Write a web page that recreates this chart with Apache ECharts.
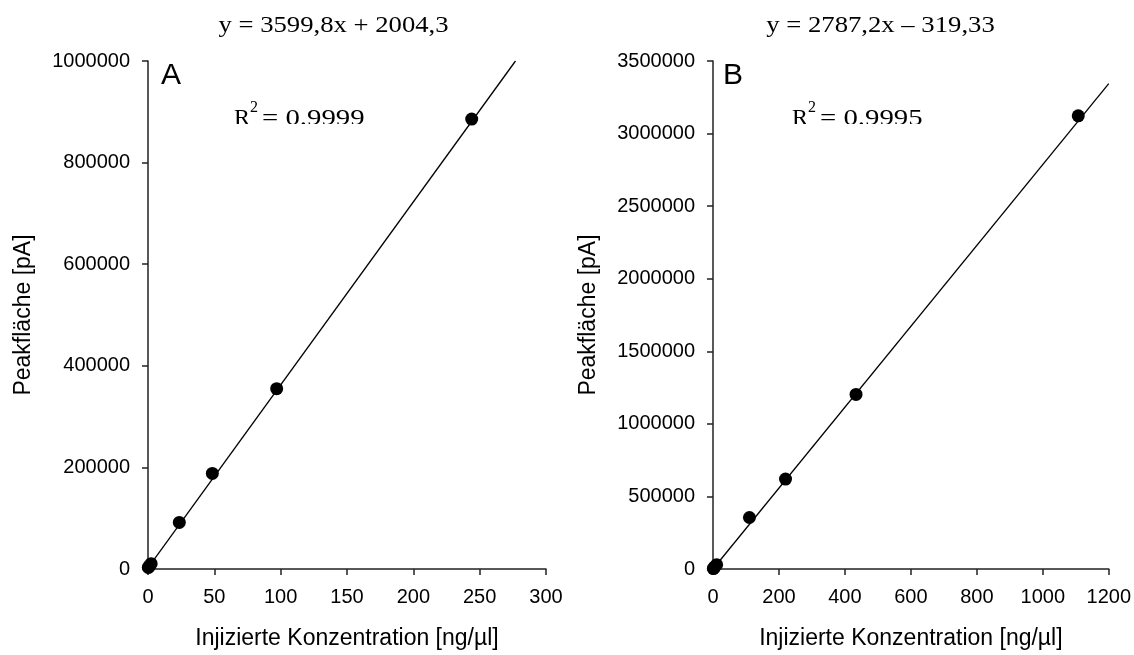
<!DOCTYPE html>
<html>
<head>
<meta charset="utf-8">
<script src="https://cdn.jsdelivr.net/npm/echarts@6/dist/echarts.min.js"></script>
<style>html,body{margin:0;padding:0;background:#fff}#c{width:1134px;height:655px}</style>
</head>
<body>
<div id="c"></div>
<script>
// Panel A data (x: ng/µl, y: peak area pA)
const pointsA_x = [0.25, 0.5, 1.2, 2.4, 23.6, 48.5, 97.0, 244.0];
const pointsA_y = [2900, 3800, 6300, 10500, 91600, 188200, 355000, 885700];
const trendA = [[0, 2000], [277, 1000000]];
// Panel B data
const pointsB_x = [1.1, 2.2, 5.5, 11, 110.5, 219.9, 433.7, 1107.5];
const pointsB_y = [3000, 6000, 15000, 30000, 354800, 619700, 1203000, 3122500];
const trendB = [[0, 0], [1200, 3344000]];

const xMaxA = 300, xIntA = 50, yMaxA = 1000000, yIntA = 200000;
const xMaxB = 1200, xIntB = 200, yMaxB = 3500000, yIntB = 500000;

const eqA = 'y = 3599,8x + 2004,3';
const eqB = 'y = 2787,2x \u2013 319,33';
const r2A = '= 0.9999';
const r2B = '= 0.9995';
const xTitle = 'Injizierte Konzentration [ng/\u00b5l]';
const yTitle = 'Peakfl\u00e4che [pA]';

const sans = 'Liberation Sans, Arial, sans-serif';
const serif = 'Liberation Serif, Times New Roman, serif';

function plain(v) { return String(v); }

function xAxis(gi, max, interval) {
  return {
    type: 'value', gridIndex: gi, min: 0, max: max, interval: interval,
    name: xTitle, nameLocation: 'middle', nameGap: 58,
    nameTextStyle: {fontFamily: sans, fontSize: 23, color: '#000'},
    axisLine: {show: true, onZero: false, lineStyle: {color: '#222', width: 1.5}},
    axisTick: {show: true, length: 6, lineStyle: {color: '#222', width: 1.5}},
    axisLabel: {fontFamily: sans, fontSize: 20, color: '#000', margin: 18, formatter: plain},
    splitLine: {show: false}
  };
}
function yAxis(gi, max, interval) {
  return {
    type: 'value', gridIndex: gi, min: 0, max: max, interval: interval,
    name: yTitle, nameLocation: 'middle', nameGap: 113, nameRotate: 90,
    nameTextStyle: {fontFamily: sans, fontSize: 23, color: '#000'},
    axisLine: {show: true, onZero: false, lineStyle: {color: '#222', width: 1.5}},
    axisTick: {show: true, length: 6, lineStyle: {color: '#222', width: 1.5}},
    axisLabel: {fontFamily: sans, fontSize: 20, color: '#000', margin: 18, formatter: plain},
    splitLine: {show: false}
  };
}
function zip(xs, ys) { return xs.map((x, i) => [x, ys[i]]); }

function txt(x, y, text, size, font, align, sx) {
  return {type: 'text', x: x, y: y, scaleX: sx || 1, z: 10,
    style: {text: text, font: size + 'px ' + font, fill: '#000', textAlign: align, textVerticalAlign: 'middle'}};
}

const chart = echarts.init(document.getElementById('c'), null, {renderer: 'canvas'});
chart.setOption({
  animation: false,
  backgroundColor: '#fff',
  grid: [
    {left: 148, right: 588, top: 61, bottom: 84},
    {left: 713, right: 22, top: 61, bottom: 84}
  ],
  xAxis: [xAxis(0, xMaxA, xIntA), xAxis(1, xMaxB, xIntB)],
  yAxis: [yAxis(0, yMaxA, yIntA), yAxis(1, yMaxB, yIntB)],
  series: [
    {type: 'line', xAxisIndex: 0, yAxisIndex: 0, data: trendA, symbol: 'none',
     lineStyle: {color: '#000', width: 1.3}, z: 2},
    {type: 'scatter', xAxisIndex: 0, yAxisIndex: 0, data: zip(pointsA_x, pointsA_y),
     symbol: 'circle', symbolSize: 13, itemStyle: {color: '#000', opacity: 1}, z: 3},
    {type: 'line', xAxisIndex: 1, yAxisIndex: 1, data: trendB, symbol: 'none',
     lineStyle: {color: '#000', width: 1.3}, z: 2},
    {type: 'scatter', xAxisIndex: 1, yAxisIndex: 1, data: zip(pointsB_x, pointsB_y),
     symbol: 'circle', symbolSize: 13, itemStyle: {color: '#000', opacity: 1}, z: 3}
  ],
  graphic: [
    txt(333.5, 26, eqA, 23, serif, 'center', 1.16),
    txt(880.5, 26, eqB, 23, serif, 'center', 1.16),
    txt(161, 76, 'A', 30, sans, 'left'),
    txt(723, 76, 'B', 30, sans, 'left'),
    txt(234, 119, 'R', 24, serif, 'left'),
    txt(250, 108, '2', 16, serif, 'left'),
    txt(262, 119, r2A, 24, serif, 'left', 1.2),
    txt(792, 119, 'R', 24, serif, 'left'),
    txt(808, 108, '2', 16, serif, 'left'),
    txt(820, 119, r2B, 24, serif, 'left', 1.2),
    {type: 'rect', z: 20, shape: {x: 228, y: 124, width: 140, height: 12}, style: {fill: '#fff'}},
    {type: 'rect', z: 20, shape: {x: 786, y: 124, width: 140, height: 12}, style: {fill: '#fff'}}
  ]
});
</script>
</body>
</html>
